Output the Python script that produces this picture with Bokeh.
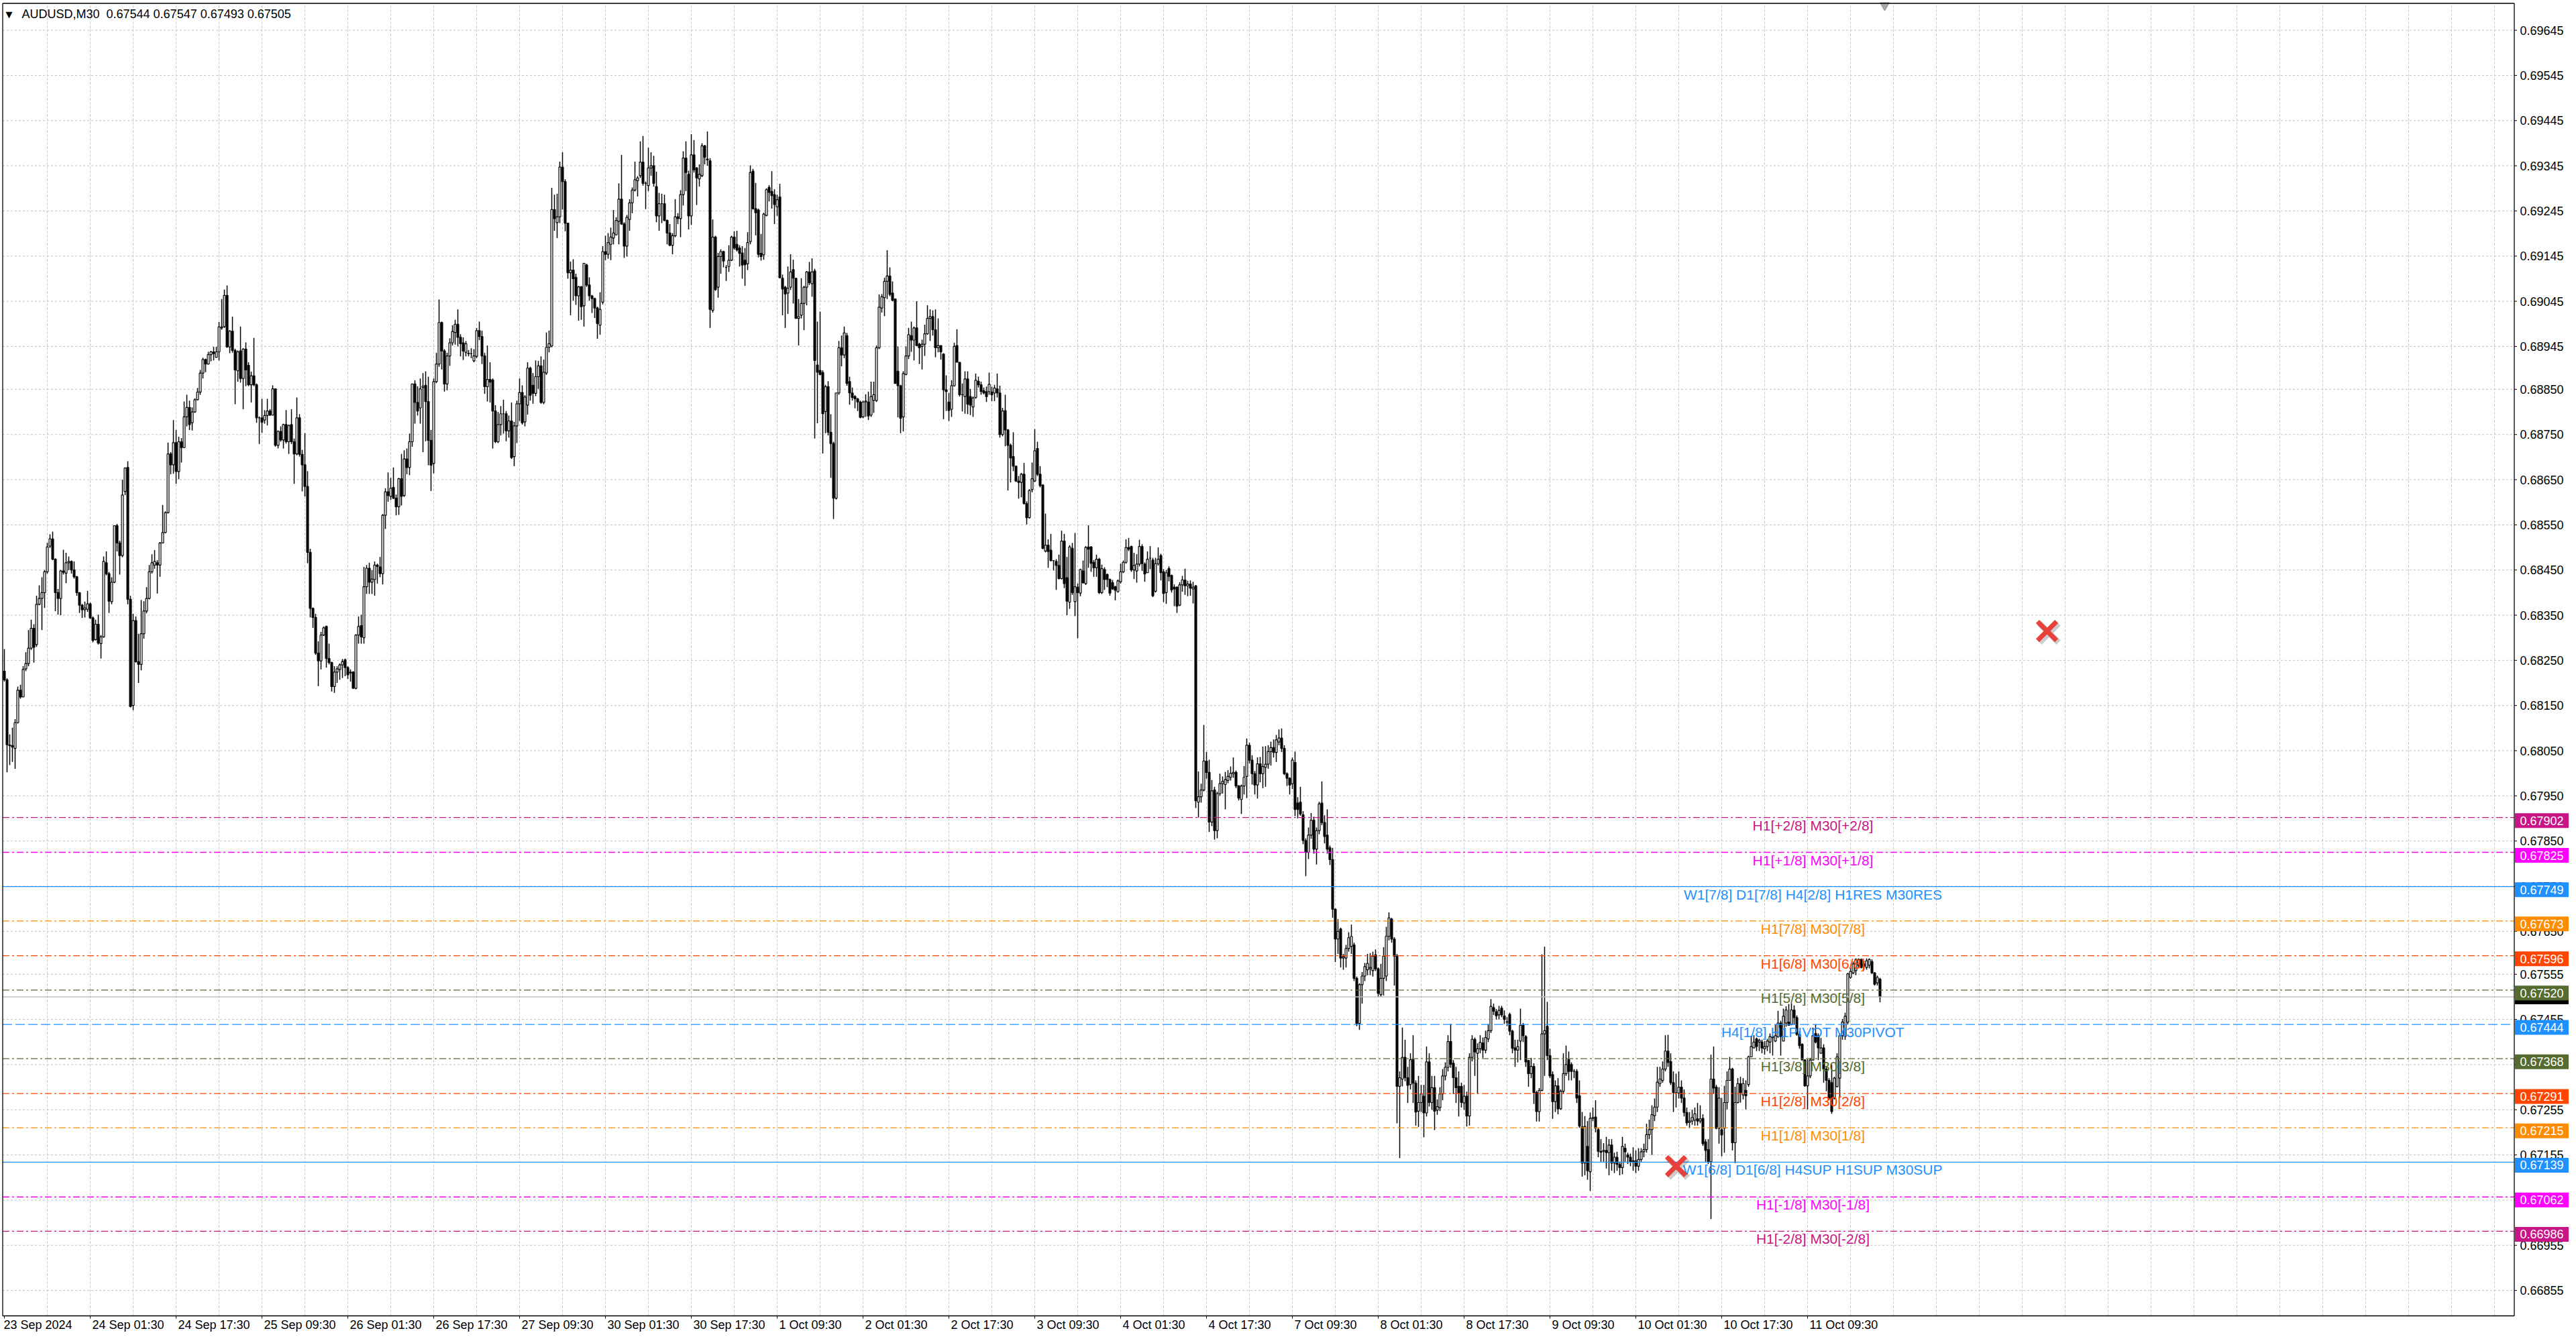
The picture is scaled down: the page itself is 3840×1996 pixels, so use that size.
import numpy as np
from bokeh.plotting import figure
from bokeh.models import ColumnDataSource, Range1d
from bokeh.embed import file_html
from bokeh.resources import INLINE
from bokeh.core.properties import value

# ---------------- data (prices x 100000), one value per M30 bar ----------------
opens_e5 = [
68226,68207,68063,68061,68055,68112,68184,68169,68231,68243,
68277,68321,68285,68374,68387,68400,68446,68503,68519,68474,
68400,68387,68448,68443,68466,68469,68450,68435,68400,68372,
68362,68363,68375,68344,68296,68330,68287,68302,68466,68442,
68380,68423,68548,68510,68482,68624,68677,68385,68150,68338,
68247,68241,68309,68359,68387,68446,68461,68466,68461,68510,
68533,68577,68707,68683,68732,68668,68734,68721,68789,68810,
68776,68800,68827,68844,68886,68916,68906,68927,68933,68921,
68933,68986,68989,69058,68944,68979,68936,68891,68935,68874,
68939,68903,68860,68880,68860,68787,68787,68782,68792,68802,
68793,68851,68726,68757,68738,68772,68734,68772,68734,68707,
68787,68706,68683,68635,68489,68365,68345,68266,68249,68306,
68325,68254,68245,68192,68224,68230,68240,68251,68234,68222,
68224,68188,68306,68327,68300,68413,68454,68423,68429,68461,
68457,68442,68571,68623,68613,68633,68609,68590,68652,68615,
68696,68677,68734,68862,68821,68809,68854,68859,68823,68737,
68686,68867,68906,68998,68935,68862,68924,68953,68976,68994,
68965,68953,68932,68930,68929,68913,68923,68980,68967,68924,
68856,68872,68871,68802,68734,68772,68796,68796,68758,68780,
68701,68769,68818,68843,68778,68815,68897,68859,68841,68878,
68902,68821,68886,68943,68946,69248,69219,69232,69342,69310,
69218,69108,69114,69098,69057,69077,69035,69125,69081,69057,
69051,69030,68992,69043,69155,69149,69171,69185,69192,69222,
69271,69216,69167,69226,69263,69291,69312,69323,69353,69306,
69301,69340,69345,69299,69234,69261,69261,69224,69196,69169,
69190,69232,69228,69281,69362,69326,69234,69369,69340,69316,
69323,69389,69360,69356,69025,69187,69076,69144,69155,69120,
69122,69136,69187,69171,69163,69152,69136,69128,69177,69333,
69250,69247,69151,69148,69235,69297,69288,69281,69254,69276,
69096,69076,69063,69076,69115,69096,69007,69014,69040,69076,
69110,69084,69112,68904,68892,68887,68801,68856,68755,68730,
68609,68842,68942,68926,68969,68867,68842,68834,68829,68822,
68789,68822,68822,68793,68826,68825,68942,69030,69053,69089,
69101,69063,69050,68890,68858,68789,68883,68924,68969,68959,
68986,68950,68945,68950,68973,69007,69011,68982,68942,68947,
68928,68849,68822,68806,68858,68947,68910,68838,68834,68873,
68834,68811,68832,68868,68860,68847,68845,68845,68844,68842,
68851,68842,68750,68803,68760,68726,68701,68680,68647,68644,
68662,68597,68566,68628,68647,68719,68662,68638,68492,68505,
68494,68471,68469,68460,68431,68514,68433,68379,68498,68380,
68412,68399,68448,68420,68501,68501,68467,68455,68474,68400,
68451,68440,68429,68422,68413,68402,68424,68446,68467,68500,
68502,68450,68448,68463,68502,68463,68444,68476,68472,68403,
68464,68482,68446,68400,68453,68438,68412,68412,68372,68417,
68428,68415,68419,68408,68415,67936,67948,67963,68027,68002,
67892,67963,67873,67955,67977,67975,67984,67991,67999,68002,
67972,67942,67972,67993,68062,68029,67999,67974,68021,67999,
68013,68020,68048,68057,68046,68069,68078,68055,67999,67989,
67977,68024,67934,67936,67908,67851,67825,67863,67896,67832,
67873,67934,67891,67863,67835,67809,67699,67633,67655,67591,
67591,67612,67617,67620,67546,67446,67532,67551,67565,67567,
67563,67598,67567,67510,67546,67551,67639,67677,67633,67595,
67307,67323,67371,67326,67311,67366,67314,67252,67271,67285,
67248,67361,67271,67304,67254,67260,67290,67330,67349,67406,
67358,67326,67307,67307,67270,67285,67241,67371,67411,67380,
67390,67403,67387,67412,67430,67481,67472,67465,67480,67463,
67449,67466,67429,67392,67387,67407,67442,67417,67364,67335,
67351,67293,67251,67298,67423,67440,67375,67333,67273,67308,
67257,67296,67335,67366,67355,67340,67340,67286,67217,67137,
67174,67118,67236,67239,67211,67163,67163,67165,67160,67177,
67137,67150,67134,67127,67170,67155,67150,67140,67142,67130,
67145,67162,67167,67200,67211,67242,67261,67313,67320,67345,
67385,67362,67315,67293,67292,67305,67281,67249,67227,67230,
67232,67235,67230,67236,67184,67167,67140,67323,67305,67214,
67211,67214,67271,67320,67345,67182,67271,67313,67288,67298,
67311,67372,67392,67412,67405,67405,67390,67395,67405,67415,
67407,67417,67447,67407,67447,67449,67444,67476,67459,67422,
67400,67365,67308,67330,67365,67424,67419,67380,67392,67345,
67320,67315,67281,67306,67325,67419,67417,67449,67548,67558,
67563,67575,67588,67578,67570,67575,67583,67558,67536,67544,
]

highs_e5 = [
68275,68210,68086,68101,68120,68192,68196,68237,68268,68317,
68340,68330,68393,68416,68434,68450,68510,68529,68535,68476,
68408,68450,68495,68488,68480,68471,68469,68437,68400,68375,
68380,68404,68378,68347,68340,68351,68306,68480,68491,68446,
68434,68548,68552,68515,68650,68677,68691,68393,68353,68347,
68309,68384,68381,68412,68461,68485,68494,68472,68512,68594,
68580,68732,68711,68782,68760,68745,68742,68823,68838,68825,
68810,68830,68853,68893,68920,68918,68933,68935,68944,68944,
68999,69050,69071,69080,68981,69011,68940,68936,68989,68941,
68954,68910,68889,68964,68863,68790,68829,68804,68829,68806,
68859,68851,68759,68768,68774,68804,68772,68806,68741,68832,
68795,68716,68753,68669,68497,68367,68353,68292,68313,68325,
68327,68287,68247,68237,68237,68243,68253,68254,68237,68230,
68226,68308,68347,68351,68457,68461,68466,68450,68469,68464,
68479,68574,68631,68666,68654,68677,68617,68654,68707,68715,
68719,68752,68862,68870,68857,68874,68886,68890,68878,68760,
68874,68931,69049,69000,68939,68931,68963,68992,69004,69027,
68972,68965,68957,68937,68941,68939,68986,69000,68980,68931,
68947,68910,68874,68815,68800,68813,68827,68802,68792,68821,
68778,68825,68874,68859,68837,68910,68900,68886,68914,68913,
68923,68916,68976,68980,69296,69281,69283,69354,69375,69315,
69218,69133,69138,69106,69079,69079,69130,69128,69098,69059,
69053,69033,69065,69167,69190,69196,69208,69247,69231,69306,
69369,69220,69236,69271,69297,69354,69322,69399,69411,69310,
69385,69375,69367,69332,69285,69283,69281,69226,69216,69196,
69271,69240,69291,69377,69399,69334,69415,69402,69342,69348,
69395,69391,69421,69362,69226,69190,69152,69160,69157,69125,
69169,69190,69200,69201,69169,69167,69163,69198,69346,69338,
69307,69250,69194,69241,69295,69302,69333,69293,69281,69305,
69104,69079,69122,69149,69137,69097,69050,69096,69079,69112,
69132,69140,69117,69000,69022,68892,68860,68868,68795,68734,
68842,68957,68969,68989,68975,68878,68854,68837,68831,68825,
68825,68839,68845,68867,68867,68947,69060,69061,69097,69158,
69120,69089,69050,68945,68860,68890,68945,68986,69000,68989,
69045,68953,68960,68993,69036,69027,69025,69027,69007,68947,
68930,68881,68842,68870,68953,68983,68910,68863,68890,68890,
68851,68834,68885,68878,68867,68854,68856,68887,68856,68860,
68885,68858,68809,68838,68762,68730,68755,68681,68658,68665,
68687,68602,68629,68688,68762,68734,68680,68640,68575,68518,
68530,68472,68474,68484,68537,68530,68479,68505,68510,68532,
68420,68453,68471,68503,68549,68503,68472,68484,68477,68462,
68456,68442,68431,68428,68415,68429,68464,68471,68518,68521,
68504,68488,68485,68517,68507,68467,68491,68503,68477,68477,
68500,68486,68452,68450,68458,68440,68418,68414,68423,68437,
68453,68426,68427,68424,68417,68004,67977,68107,68047,68030,
67985,67970,67959,67999,67993,68003,68007,68015,68035,68006,
67974,67975,68016,68077,68068,68040,68005,68035,68036,68059,
68060,68062,68070,68075,68085,68097,68099,68062,68002,67991,
68035,68048,67947,67970,67916,67856,67880,67912,67904,67880,
67937,67982,67907,67920,67840,67835,67701,67677,67658,67600,
67620,67648,67665,67625,67550,67535,67560,67580,67600,67602,
67605,67610,67570,67578,67615,67660,67692,67680,67637,67600,
67340,67437,67410,67350,67380,67420,67320,67330,67310,67310,
67395,67380,67330,67330,67278,67305,67345,67360,67420,67445,
67365,67350,67340,67315,67310,67295,67380,67420,67415,67402,
67420,67415,67430,67445,67500,67490,67478,67485,67485,67475,
67460,67470,67432,67410,67410,67479,67447,67420,67365,67370,
67358,67297,67303,67599,67616,67494,67390,67340,67320,67325,
67300,67380,67397,67384,67360,67345,67345,67320,67250,67241,
67230,67249,67260,67276,67215,67190,67181,67195,67190,67190,
67160,67162,67140,67195,67180,67160,67158,67172,67165,67170,
67170,67180,67224,67233,67265,67280,67350,67350,67362,67420,
67421,67380,67340,67335,67340,67320,67300,67260,67250,67255,
67260,67270,67265,67245,67190,67190,67377,67395,67310,67305,
67281,67308,67340,67372,67348,67306,67325,67328,67325,67320,
67375,67419,67420,67415,67412,67410,67407,67412,67424,67417,
67444,67474,67452,67479,67484,67489,67491,67486,67464,67429,
67402,67367,67367,67370,67437,67444,67424,67414,67400,67350,
67325,67355,67328,67380,67424,67456,67470,67558,67570,67583,
67590,67590,67590,67585,67590,67590,67588,67560,67552,67547,
]

lows_e5 = [
68203,68002,68018,68025,68010,68110,68165,68169,68226,68237,
68273,68245,68280,68372,68317,68366,68442,68499,68472,68359,
68351,68350,68440,68421,68450,68442,68431,68393,68355,68344,
68345,68357,68342,68290,68294,68285,68254,68300,68438,68355,
68374,68421,68491,68440,68478,68616,68374,68146,68140,68245,
68200,68228,68298,68354,68385,68442,68453,68398,68435,68510,
68532,68575,68662,68663,68641,68651,68688,68720,68768,68760,
68759,68798,68826,68838,68874,68888,68905,68912,68914,68921,
68914,68982,68986,68942,68930,68931,68817,68867,68865,68806,
68857,68857,68821,68857,68776,68729,68754,68774,68770,68791,
68792,68723,68719,68734,68719,68730,68707,68729,68641,68704,
68701,68624,68613,68465,68345,68322,68262,68193,68230,68304,
68234,68241,68181,68178,68200,68207,68211,68215,68209,68203,
68188,68186,68287,68287,68287,68397,68397,68397,68393,68420,
68434,68418,68541,68601,68605,68607,68571,68572,68593,68612,
68662,68660,68723,68774,68792,68774,68711,68735,68682,68625,
68664,68864,68900,68894,68845,68848,68902,68947,68949,68945,
68923,68915,68923,68923,68919,68910,68919,68959,68906,68840,
68823,68821,68719,68731,68731,68748,68752,68735,68743,68696,
68680,68731,68780,68772,68768,68794,68825,68818,68835,68851,
68818,68817,68882,68932,68943,69201,69185,69218,69248,69200,
69095,69014,69046,69037,69002,69004,68989,69077,69046,69019,
69008,68962,68971,69038,69136,69139,69136,69171,69192,69171,
69214,69141,69144,69201,69240,69288,69277,69318,69301,69249,
69289,69323,69299,69220,69201,69218,69222,69171,69167,69149,
69187,69216,69187,69257,69289,69204,69214,69330,69258,69299,
69320,69348,69345,68986,69020,69068,69053,69106,69120,69090,
69110,69134,69159,69155,69122,69095,69079,69114,69171,69248,
69191,69142,69135,69137,69233,69266,69250,69216,69234,69097,
69014,68986,69017,69070,69040,69007,68947,69007,68981,69036,
69081,69055,68741,68775,68881,68708,68753,68748,68654,68563,
68606,68838,68901,68919,68858,68816,68825,68808,68802,68786,
68786,68789,68782,68789,68798,68822,68939,69020,69012,69050,
69056,69045,68863,68788,68753,68757,68881,68917,68933,68914,
68946,68906,68894,68924,68971,68957,68969,68921,68932,68916,
68784,68802,68780,68789,68856,68910,68834,68801,68796,68795,
68793,68789,68829,68854,68838,68839,68822,68838,68824,68824,
68832,68743,68746,68724,68626,68644,68669,68645,68608,68611,
68595,68551,68564,68622,68645,68658,68633,68496,68489,68455,
68469,68449,68406,68429,68429,68410,68350,68364,68395,68348,
68299,68392,68420,68417,68455,68446,68435,68435,68397,68397,
68406,68412,68393,68406,68383,68400,68420,68443,68464,68492,
68446,68430,68422,68458,68448,68424,68444,68452,68390,68400,
68460,68427,68379,68375,68425,68400,68370,68355,68370,68402,
68395,68392,68393,68376,67923,67902,67935,67960,67988,67870,
67883,67853,67856,67950,67955,67920,67978,67984,67990,67967,
67940,67910,67953,67945,68022,67975,67953,67944,67980,67967,
67970,68010,68017,68035,68025,68062,68047,67996,67972,67953,
67965,67905,67900,67906,67843,67772,67810,67855,67822,67798,
67865,67885,67845,67822,67797,67680,67582,67600,67570,67565,
67570,67605,67600,67540,67440,67432,67490,67540,67553,67553,
67550,67562,67505,67505,67508,67540,67630,67625,67530,67225,
67148,67307,67318,67270,67300,67270,67220,67217,67250,67194,
67240,67262,67255,67210,67244,67252,67276,67320,67340,67348,
67290,67270,67240,67260,67255,67218,67220,67362,67330,67290,
67380,67370,67380,67405,67425,67465,67455,67455,67460,67445,
67440,67420,67380,67350,67360,67365,67405,67350,67306,67325,
67268,67229,67229,67296,67330,67365,67325,67235,67250,67245,
67255,67290,67330,67320,67320,67325,67270,67215,67107,67110,
67100,67075,67230,67205,67150,67140,67140,67125,67110,67120,
67115,67120,67110,67112,67140,67135,67130,67120,67115,67120,
67140,67150,67160,67190,67155,67230,67250,67306,67315,67340,
67350,67310,67250,67260,67280,67270,67240,67220,67215,67222,
67220,67220,67225,67175,67140,67135,67013,67290,67212,67180,
67152,67160,67256,67320,67165,67137,67269,67271,67278,67256,
67306,67372,67392,67385,67385,67380,67377,67385,67380,67375,
67405,67414,67375,67407,67439,67442,67442,67444,67419,67390,
67365,67306,67256,67325,67365,67402,67365,67380,67315,67296,
67276,67246,67278,67305,67281,67410,67410,67444,67545,67555,
67553,67570,67568,67565,67565,67568,67556,67530,67530,67493,
]

closes_e5 = [
68207,68063,68061,68058,68112,68184,68169,68230,68243,68277,
68321,68279,68374,68387,68400,68446,68501,68519,68474,68400,
68387,68448,68445,68466,68469,68450,68435,68400,68372,68362,
68366,68375,68344,68294,68330,68288,68302,68469,68442,68381,
68423,68548,68510,68482,68616,68676,68385,68148,68338,68247,
68241,68309,68359,68387,68446,68466,68469,68461,68510,68533,
68577,68707,68683,68732,68668,68734,68721,68789,68810,68772,
68800,68827,68844,68886,68916,68906,68927,68933,68929,68933,
68988,68988,69058,68944,68979,68936,68893,68933,68874,68939,
68893,68860,68880,68860,68787,68787,68777,68792,68802,68793,
68851,68726,68757,68738,68772,68734,68770,68734,68707,68787,
68706,68683,68635,68489,68365,68345,68266,68249,68306,68322,
68254,68245,68192,68224,68231,68240,68247,68234,68218,68224,
68188,68306,68325,68302,68413,68454,68423,68430,68461,68458,
68442,68571,68623,68615,68631,68609,68590,68652,68613,68696,
68677,68734,68862,68821,68802,68851,68857,68823,68737,68682,
68867,68906,68998,68935,68862,68924,68953,68978,68994,68965,
68951,68935,68951,68929,68929,68924,68980,68967,68924,68856,
68872,68866,68802,68734,68772,68796,68796,68758,68780,68699,
68769,68818,68843,68776,68833,68897,68837,68841,68878,68902,
68821,68888,68943,68951,69248,69228,69232,69342,69310,69218,
69108,69114,69095,69057,69077,69033,69129,69081,69057,69051,
69030,68996,69027,69155,69149,69175,69187,69196,69224,69271,
69216,69167,69231,69263,69291,69314,69318,69353,69306,69306,
69340,69345,69306,69234,69261,69261,69224,69196,69169,69190,
69232,69228,69281,69362,69330,69234,69369,69336,69318,69326,
69389,69364,69358,69027,69187,69071,69144,69155,69134,69120,
69136,69187,69163,69159,69151,69125,69126,69175,69330,69250,
69241,69149,69144,69238,69292,69286,69279,69259,69270,69097,
69072,69061,69074,69110,69096,69007,69011,69040,69076,69110,
69086,69110,68914,68888,68883,68796,68856,68755,68730,68609,
68842,68942,68926,68975,68863,68842,68832,68829,68822,68788,
68822,68824,68791,68834,68838,68942,69032,69055,69089,69101,
69060,69047,68863,68858,68786,68885,68924,68971,68959,68986,
68947,68942,68950,68973,69007,69011,68982,68942,68947,68933,
68849,68845,68803,68858,68945,68910,68838,68838,68873,68817,
68815,68831,68870,68860,68845,68842,68834,68861,68838,68853,
68842,68750,68802,68760,68726,68698,68680,68647,68644,68662,
68597,68566,68626,68652,68714,68662,68637,68498,68505,68491,
68471,68471,68460,68431,68514,68420,68381,68501,68400,68413,
68400,68451,68422,68500,68496,68465,68455,68474,68400,68453,
68429,68429,68399,68408,68405,68426,68446,68467,68500,68496,
68450,68460,68463,68502,68464,68441,68474,68476,68393,68464,
68474,68444,68398,68444,68436,68406,68408,68370,68417,68428,
68415,68419,68410,68412,67939,67948,67963,68027,68002,67892,
67961,67873,67955,67977,67982,67986,67993,68000,68002,67972,
67945,67972,67991,68062,68029,67999,67974,68021,67999,68015,
68020,68048,68057,68046,68074,68078,68055,67999,67989,67974,
68029,67920,67920,67910,67851,67825,67863,67896,67832,67873,
67932,67891,67860,67832,67809,67699,67633,67650,67591,67594,
67612,67636,67639,67546,67446,67532,67551,67572,67579,67570,
67595,67567,67513,67546,67595,67639,67680,67633,67595,67307,
67326,67371,67326,67309,67366,67314,67250,67271,67290,67248,
67361,67271,67304,67252,67262,67290,67330,67349,67406,67356,
67326,67304,67292,67271,67285,67241,67371,67411,67383,67390,
67404,67387,67415,67430,67484,67473,67463,67475,67465,67455,
67450,67429,67391,67387,67395,67442,67419,67361,67335,67351,
67293,67251,67298,67423,67430,67375,67330,67273,67308,67257,
67296,67335,67355,67340,67340,67340,67281,67219,67137,67218,
67120,67236,67238,67214,67163,67161,67165,67160,67177,67137,
67150,67134,67127,67174,67162,67150,67140,67142,67130,67145,
67162,67167,67200,67211,67244,67261,67316,67323,67345,67385,
67360,67315,67293,67293,67305,67281,67249,67226,67230,67238,
67246,67230,67235,67180,67165,67140,67323,67303,67214,67281,
67199,67271,67320,67345,67182,67271,67313,67293,67313,67286,
67372,67395,67405,67395,67409,67392,67395,67407,67417,67417,
67419,67447,67417,67462,67476,67442,67476,67459,67422,67397,
67365,67308,67330,67365,67419,67405,67392,67392,67345,67320,
67281,67251,67325,67372,67419,67449,67462,67556,67561,67578,
67588,67588,67570,67573,67585,67588,67558,67533,67548,67505,
]

# time scale labels (every 32 bars)
tick_bars = [0, 32, 64, 96, 128, 160, 192, 224, 256, 288, 320,
             352, 384, 416, 448, 480, 512, 544, 576, 608, 640, 672]
tick_labels = ["23 Sep 2024", "24 Sep 01:30", "24 Sep 17:30", "25 Sep 09:30",
               "26 Sep 01:30", "26 Sep 17:30", "27 Sep 09:30", "30 Sep 01:30",
               "30 Sep 17:30", "1 Oct 09:30", "2 Oct 01:30", "2 Oct 17:30",
               "3 Oct 09:30", "4 Oct 01:30", "4 Oct 17:30", "7 Oct 09:30",
               "8 Oct 01:30", "8 Oct 17:30", "9 Oct 09:30", "10 Oct 01:30",
               "10 Oct 17:30", "11 Oct 09:30"]

price_ticks = [0.69645, 0.69545, 0.69445, 0.69345, 0.69245, 0.69145, 0.69045,
               0.68945, 0.68850, 0.68750, 0.68650, 0.68550, 0.68450, 0.68350,
               0.68250, 0.68150, 0.68050, 0.67950, 0.67850, 0.67750, 0.67650,
               0.67555, 0.67455, 0.67355, 0.67255, 0.67155, 0.67055, 0.66955,
               0.66855]

# Murrey-math style levels
levels = [0.67902, 0.67825, 0.67749, 0.67673, 0.67596, 0.67520, 0.67444,
          0.67368, 0.67291, 0.67215, 0.67139, 0.67062, 0.66986]
level_names = ["H1[+2/8] M30[+2/8]", "H1[+1/8] M30[+1/8]",
               "W1[7/8] D1[7/8] H4[2/8] H1RES M30RES", "H1[7/8] M30[7/8]",
               "H1[6/8] M30[6/8]", "H1[5/8] M30[5/8]", "H4[1/8] H1PIVOT M30PIVOT",
               "H1[3/8] M30[3/8]", "H1[2/8] M30[2/8]", "H1[1/8] M30[1/8]",
               "W1[6/8] D1[6/8] H4SUP H1SUP M30SUP", "H1[-1/8] M30[-1/8]",
               "H1[-2/8] M30[-2/8]"]
level_colors = ["#C71585", "#FF00FF", "#1E90FF", "#FF8C00", "#FF4500", "#556B2F",
                "#1E90FF", "#556B2F", "#FF4500", "#FF8C00", "#1E90FF", "#FF00FF",
                "#C71585"]
level_styles = ["dashdot", "dashdot", "solid", "dashdot", "dashdot", "dashdot",
                "dashed", "dashdot", "dashdot", "dashdot", "solid", "dashdot",
                "dashdot"]

bid_price = 0.67505
title_text = "AUDUSD,M30\u00a0\u00a00.67544 0.67547 0.67493 0.67505"

cross_bars = [761.25, 623.0]
cross_prices = [0.68315, 0.67130]

# ---------------- layout constants ----------------
W, H = 3840, 1996
FONT = "Liberation Sans"
BAR_PX = 4.0                 # pixels per bar
X_START = -1.5               # bar at the left edge of the canvas
PRICE_PX = 67330.0           # pixels per price unit
REF_PRICE, REF_Y = 0.69645, 44.6   # a price and its pixel row


def bar_at(px):
    return X_START + px / BAR_PX


def price_at(py):
    return REF_PRICE - (py - REF_Y) / PRICE_PX


def dx(px):
    return px / BAR_PX


def dy(px):
    return px / PRICE_PX


X_END = bar_at(W)
X_LEFT = bar_at(3.5)         # left border of chart
X_AXIS = bar_at(3747.5)      # price-scale line
P_CANVAS_TOP = price_at(0)
P_CANVAS_BOT = price_at(H)
P_TOP = price_at(4.5)        # top border of chart
P_BOT = price_at(1961)       # time-scale line

# ---------------- build ----------------
o = np.array(opens_e5, dtype=float) / 1e5
h = np.array(highs_e5, dtype=float) / 1e5
l = np.array(lows_e5, dtype=float) / 1e5
c = np.array(closes_e5, dtype=float) / 1e5
n = min(len(o), len(h), len(l), len(c))
o, h, l, c = o[:n], h[:n], l[:n], c[:n]
h = np.maximum(h, np.maximum(o, c))
l = np.minimum(l, np.minimum(o, c))
xs = np.arange(n)

src = ColumnDataSource(dict(
    x=xs, o=o, h=h, l=l, c=c,
    top=np.maximum(o, c), bottom=np.minimum(o, c),
    fill=np.where(c > o, "white", "black"),
))

p = figure(width=W, height=H, output_backend="svg", toolbar_location=None,
           title=None, x_axis_location=None, y_axis_location=None,
           x_range=Range1d(X_START, X_END), y_range=Range1d(P_CANVAS_BOT, P_CANVAS_TOP),
           min_border=0, min_border_left=0, min_border_right=0,
           min_border_top=0, min_border_bottom=0,
           background_fill_color="white", border_fill_color="white",
           outline_line_color=None)
p.xgrid.visible = False
p.ygrid.visible = False

# grid (dotted light grey)
grid_bars = list(range(16, int(X_AXIS), 16))
p.segment(x0=grid_bars, y0=[P_BOT] * len(grid_bars), x1=grid_bars, y1=[P_TOP] * len(grid_bars),
          line_color="#C0C0C0", line_width=1, line_dash="3 3")
p.segment(x0=[X_LEFT] * len(price_ticks), y0=price_ticks, x1=[X_AXIS] * len(price_ticks),
          y1=price_ticks, line_color="#C0C0C0", line_width=1, line_dash="3 3")

# candles
p.segment(x0="x", y0="l", x1="x", y1="h", source=src, line_color="black", line_width=1.5)
p.vbar(x="x", width=0.72, top="top", bottom="bottom", source=src,
       fill_color="fill", line_color="black", line_width=1.2)

# level lines
dash_map = {"dashdot": "10 4 3 4", "dashed": "14 5", "solid": "solid"}
for lv, col, st in zip(levels, level_colors, level_styles):
    p.segment(x0=[X_LEFT], y0=[lv], x1=[X_AXIS], y1=[lv], line_color=col,
              line_width=1.3, line_dash=dash_map[st])
p.segment(x0=[X_LEFT], y0=[bid_price], x1=[X_AXIS], y1=[bid_price],
          line_color="#C0C0C0", line_width=1.5)

# level names
p.text(x=[674] * len(levels), y=levels, text=level_names, text_color=level_colors,
       text_align="center", text_baseline="top", text_font=value(FONT),
       text_font_size="21px")

# red crosses with soft shadow
p.scatter(x=[b + dx(3) for b in cross_bars], y=[v - dy(3) for v in cross_prices],
          marker="x", size=40, line_color="#000000", line_alpha=0.2, line_width=9)
p.scatter(x=cross_bars, y=cross_prices, marker="x", size=40,
          line_color="#E8403A", line_width=7)

# chart shift marker
p.scatter(x=[n + 0.75], y=[P_TOP - dy(3)], marker="inverted_triangle", size=14,
          fill_color="#A8A8A8", line_color="#909090")

# chart border
p.segment(x0=[X_LEFT, X_LEFT, X_AXIS, X_LEFT],
          y0=[P_BOT, P_TOP, P_BOT, P_BOT],
          x1=[X_LEFT, X_AXIS, X_AXIS, X_AXIS],
          y1=[P_TOP, P_TOP, P_TOP, P_BOT],
          line_color="black", line_width=1.3)

# price scale: ticks and labels
p.segment(x0=[X_AXIS] * len(price_ticks), y0=price_ticks,
          x1=[X_AXIS + dx(4)] * len(price_ticks), y1=price_ticks,
          line_color="black", line_width=1)
p.text(x=[X_AXIS + dx(8.5)] * len(price_ticks), y=price_ticks,
       text=["%.5f" % t for t in price_ticks], text_color="black",
       text_align="left", text_baseline="middle", text_font=value(FONT),
       text_font_size="18px")

# time scale: ticks and labels
p.segment(x0=tick_bars, y0=[P_BOT] * len(tick_bars), x1=tick_bars,
          y1=[P_BOT - dy(4)] * len(tick_bars), line_color="black", line_width=1)
label_x = [b + dx(3) if b > 0 else b - dx(1) for b in tick_bars]
p.text(x=label_x, y=[P_BOT - dy(3)] * len(tick_bars),
       text=tick_labels, text_color="black", text_align="left", text_baseline="top",
       text_font=value(FONT), text_font_size="18px")

# price boxes on the scale (bid box first, level boxes over it)
p.quad(left=[X_AXIS + dx(1)], right=[X_AXIS + dx(81)],
       top=[bid_price + dy(11)], bottom=[bid_price - dy(11)],
       fill_color="black", line_color=None)
box_off = dy(4.5)
p.quad(left=[X_AXIS + dx(1)] * len(levels), right=[X_AXIS + dx(81)] * len(levels),
       top=[lv - box_off + dy(11) for lv in levels],
       bottom=[lv - box_off - dy(11) for lv in levels],
       fill_color=level_colors, line_color=None)
p.text(x=[X_AXIS + dx(8.5)] * len(levels), y=[lv - box_off for lv in levels],
       text=["%.5f" % lv for lv in levels], text_color="white",
       text_align="left", text_baseline="middle", text_font=value(FONT),
       text_font_size="18px")

# header
p.text(x=[bar_at(13)], y=[price_at(20.5)], text=["\u25bc"], text_color="black",
       text_align="center", text_baseline="middle", text_font=value("DejaVu Sans"),
       text_font_size="13px")
p.text(x=[bar_at(32)], y=[price_at(20.5)], text=[title_text], text_color="black",
       text_align="left", text_baseline="middle", text_font=value(FONT),
       text_font_size="18px")

open("out.html", "w").write(file_html(p, INLINE))
